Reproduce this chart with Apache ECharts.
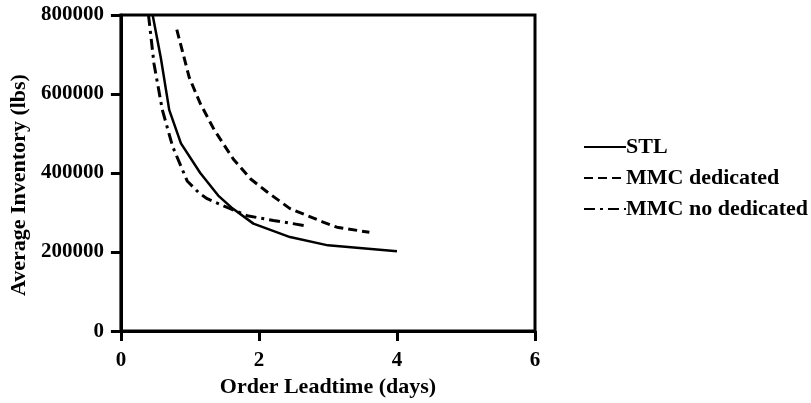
<!DOCTYPE html>
<html>
<head>
<meta charset="utf-8">
<script src="https://cdn.jsdelivr.net/npm/echarts@6/dist/echarts.min.js"></script>
<style>
  html, body { margin: 0; padding: 0; background: #fff; }
  #main { width: 811px; height: 403px; }
</style>
</head>
<body>
<div id="main"></div>
<script type="text/javascript">
    // values: [leadtime (days), inventory (lbs)]
    var seriesNames = ['STL', 'MMC dedicated', 'MMC no dedicated'];
    var stl = [[0.46, 800000], [0.58, 690000], [0.70, 560000], [0.87, 475000], [1.15, 400000],
               [1.41, 343000], [1.6, 313000], [1.92, 272000], [2.45, 238000], [3.0, 217000], [4.0, 202000]];
    var mmcDedicated = [[0.81, 763000], [0.99, 642000], [1.15, 576000], [1.35, 510000], [1.63, 435000],
                        [1.88, 385000], [2.12, 352000], [2.45, 310000], [2.93, 276000], [3.13, 263000], [3.6, 250000]];
    var mmcNoDedicated = [[0.40, 800000], [0.48, 676000], [0.60, 560000], [0.75, 467000], [0.96, 380000],
                          [1.13, 350000], [1.25, 335000], [1.54, 313000], [1.83, 292000], [2.21, 280000], [2.7, 266000]];
    var xTicks = [0, 2, 4, 6];
    var yTicks = [0, 200000, 400000, 600000, 800000];

    var font = 'Liberation Serif';
    var myChart = echarts.init(document.getElementById('main'));
    var option = {
        animation: false,
        grid: {
            left: 120, right: 276, top: 15, bottom: 66,
            show: true, borderColor: '#000', borderWidth: 3
        },
        legend: {
            orient: 'vertical',
            left: 578,
            top: 131,
            itemWidth: 42,
            itemHeight: 20,
            itemGap: 9,
            data: seriesNames,
            // hide the marker circle, keep only the line sample
            itemStyle: { color: 'transparent', borderWidth: 0, opacity: 0 },
            textStyle: {
                fontFamily: font, fontWeight: 'bold', fontSize: 22, color: '#000',
                padding: [0, 0, 0, -5]
            }
        },
        xAxis: {
            type: 'value',
            min: xTicks[0], max: xTicks[xTicks.length - 1], interval: 2,
            name: 'Order Leadtime (days)',
            nameLocation: 'middle',
            nameGap: 42,
            nameTextStyle: { fontFamily: font, fontWeight: 'bold', fontSize: 22, color: '#000' },
            axisLine: { lineStyle: { color: '#000', width: 3 } },
            axisTick: { length: 10, lineStyle: { color: '#000', width: 3 } },
            axisLabel: { margin: 19, fontFamily: font, fontWeight: 'bold', fontSize: 21, color: '#000' },
            splitLine: { show: false }
        },
        yAxis: {
            type: 'value',
            min: yTicks[0], max: yTicks[yTicks.length - 1], interval: 200000,
            name: 'Average Inventory (lbs)',
            nameLocation: 'middle',
            nameGap: 90,
            nameTextStyle: {
                fontFamily: font, fontWeight: 'bold', fontSize: 22, color: '#000',
                padding: [0, 24, 0, 0]
            },
            axisLine: { lineStyle: { color: '#000', width: 3 } },
            axisTick: { length: 10, lineStyle: { color: '#000', width: 3 } },
            axisLabel: {
                margin: 17, fontFamily: font, fontWeight: 'bold', fontSize: 21, color: '#000',
                formatter: function (v) { return String(v); }
            },
            splitLine: { show: false }
        },
        series: [
            {
                name: seriesNames[0], type: 'line', data: stl,
                symbol: 'none',
                lineStyle: { color: '#000', width: 2.5, type: 'solid' },
                itemStyle: { color: '#000' }
            },
            {
                name: seriesNames[1], type: 'line', data: mmcDedicated,
                symbol: 'none',
                lineStyle: { color: '#000', width: 3, type: [9, 5] },
                itemStyle: { color: '#000' }
            },
            {
                name: seriesNames[2], type: 'line', data: mmcNoDedicated,
                symbol: 'none',
                lineStyle: { color: '#000', width: 3, type: [11, 5, 3, 5] },
                itemStyle: { color: '#000' }
            }
        ]
    };
    myChart.setOption(option);
</script>
</body>
</html>
